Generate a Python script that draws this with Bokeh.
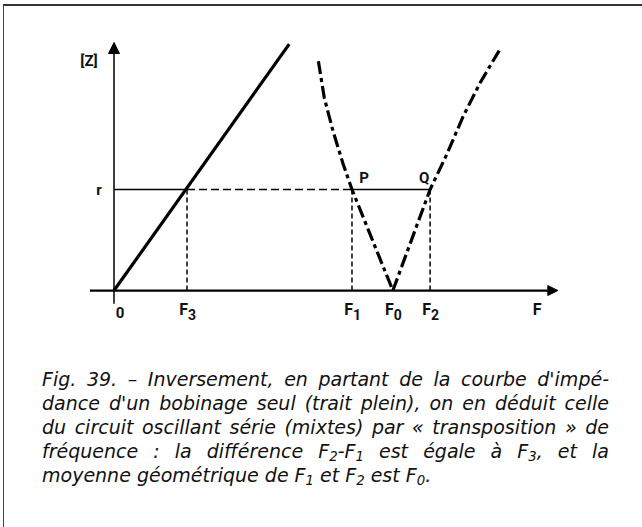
from bokeh.plotting import figure
from bokeh.models import Range1d, Arrow, NormalHead, Div
from bokeh.layouts import column
from bokeh.core.properties import value
from bokeh.embed import file_html
from bokeh.resources import INLINE

# characteristic frequencies (unit: F3) and impedance level r
F3 = 1.0
F1 = 3.26
F0 = 3.82
F2 = 4.33
R_LEVEL = 1.0

# impedance of the coil alone (solid line)
coil_f = [0.0, 2.40]
coil_z = [0.0, 2.44]

# series resonant circuit (mixed line), below and above resonance
low_f = [2.80, 2.88, 3.00, 3.14, 3.26, 3.82]
low_z = [2.27, 1.91, 1.58, 1.25, 1.00, 0.0]
high_f = [3.82, 4.33, 4.56, 4.78, 5.01, 5.28]
high_z = [0.0, 1.00, 1.35, 1.72, 2.05, 2.38]

# tick labels on the frequency axis
tick_pos = [F3, F1, F0, F2]
tick_main = ["F", "F", "F", "F"]
tick_sub = ["3", "1", "0", "2"]

SUB = '<sub style="font-size:0.7em;line-height:0;vertical-align:-3px;">{}</sub>'
caption_lines = [
    "Fig. 39. – Inversement, en partant de la courbe d'impé-",
    "dance d'un bobinage seul (trait plein), on en déduit celle",
    "du circuit oscillant série (mixtes) par « transposition » de",
    "fréquence : la différence F" + SUB.format("2") + "-F" + SUB.format("1")
    + " est égale à F" + SUB.format("3") + ", et la",
    "moyenne géométrique de F" + SUB.format("1") + " et F" + SUB.format("2")
    + " est F" + SUB.format("0") + ".",
]

LBL = value("Roboto")
W = 637.5

p = figure(width=int(W), height=340,
           x_range=Range1d(-1.5, 7.226), y_range=Range1d(-0.554, 2.812),
           output_backend="svg", toolbar_location=None, min_border=0)
p.axis.visible = False
p.grid.visible = False
p.outline_line_color = None
p.background_fill_color = "white"
p.border_fill_color = "white"

# axes with arrows
p.add_layout(Arrow(x_start=-0.33, y_start=0, x_end=6.08, y_end=0, line_width=2.2,
                   line_color="black",
                   end=NormalHead(size=10, fill_color="black", line_color="black")))
p.add_layout(Arrow(x_start=0, y_start=-0.13, x_end=0, y_end=2.455, line_width=1.5,
                   line_color="black",
                   end=NormalHead(size=11, fill_color="black", line_color="black")))

# level r construction lines
p.line([0, F3], [R_LEVEL, R_LEVEL], line_width=1.5, color="black")
p.line([F3, F1], [R_LEVEL, R_LEVEL], line_width=1.5, color="black", line_dash="8 4")
p.line([F1, F2], [R_LEVEL, R_LEVEL], line_width=1.5, color="black")
p.segment(x0=[F3, F1, F2], y0=[0, 0, 0], x1=[F3, F1, F2],
          y1=[R_LEVEL] * 3, line_width=1.5, color="black", line_dash="5 3")

# curves
p.line(coil_f, coil_z, line_width=3.2, color="black")
p.line(low_f, low_z, line_width=3.2, color="black", line_dash="13 4 4 4")
p.line(high_f, high_z, line_width=3.2, color="black", line_dash="13 4 4 4")

# labels
p.text(x=tick_pos, y=[-0.19] * 4, text=tick_main, x_offset=1,
       text_align="right", text_baseline="middle", text_font=LBL,
       text_font_style="bold", text_font_size="16px", text_color="#111")
p.text(x=tick_pos, y=[-0.19] * 4, text=tick_sub, x_offset=1, y_offset=5,
       text_align="left", text_baseline="middle", text_font=LBL,
       text_font_style="bold", text_font_size="14px", text_color="#111")
p.text(x=[0], y=[-0.19], text=["0"], x_offset=6, y_offset=3,
       text_align="center", text_baseline="middle", text_font=LBL,
       text_font_style="bold", text_font_size="15px", text_color="#111")
p.text(x=[5.795], y=[-0.19], text=["F"], text_align="center", text_baseline="middle",
       text_font=LBL, text_font_style="bold", text_font_size="16px", text_color="#111")
p.text(x=[0], y=[2.277], text=["[Z]"], x_offset=-25, text_align="center",
       text_baseline="middle", text_font=LBL, text_font_style="bold",
       text_font_size="15px", text_color="#111")
p.text(x=[0], y=[R_LEVEL], text=["r"], x_offset=-15, text_align="center",
       text_baseline="middle", text_font=LBL, text_font_style="bold",
       text_font_size="15px", text_color="#111")
p.text(x=[F1, F2], y=[R_LEVEL, R_LEVEL], text=["P", "Q"], x_offset=[12, -6],
       y_offset=[-12, -12], text_align="center", text_baseline="middle",
       text_font=LBL, text_font_style="bold", text_font_size="15px", text_color="#111")

rows = []
for i, ln in enumerate(caption_lines):
    last = i == len(caption_lines) - 1
    al = "left" if last else "justify"
    rows.append('<div style="white-space:nowrap;height:24px;line-height:24px;'
                f'text-align:{al};text-align-last:{al};">{ln}</div>')
html = ('<div style="box-sizing:content-box;font-family:\'DejaVu Sans\';font-style:oblique;'
        'font-size:19px;line-height:24px;color:#111;padding-left:33px;'
        'padding-top:16px;width:567px;">' + "".join(rows) + '</div>')
div = Div(text=html, width=int(W), height=175)

layout = column(p, div, styles={"border-top": "2px solid #333",
                                "border-left": "1.5px solid #444",
                                "border-bottom": "1.5px solid #999",
                                "border-right-width": "0px",
                                "border-right-color": "white",
                                "margin-left": "3px", "margin-top": "4px"})

open("out.html", "w").write(file_html(layout, INLINE))
